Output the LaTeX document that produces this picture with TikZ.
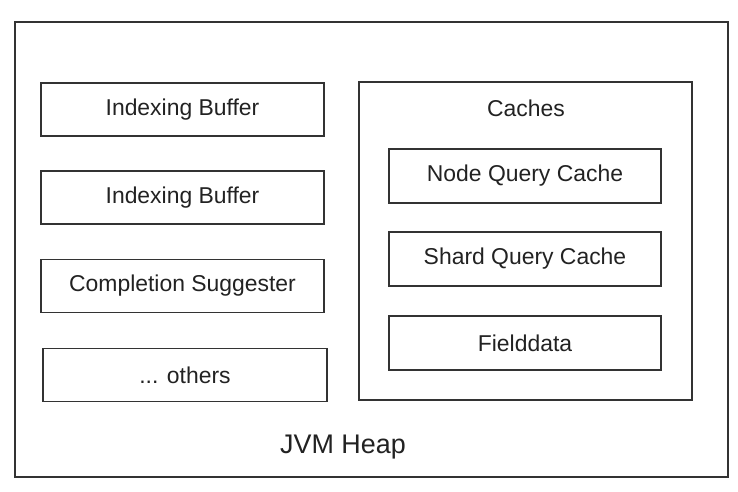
\documentclass[tikz,border=0pt]{standalone}
\usepackage{fontspec}
\setmainfont{Liberation Sans}
\usepackage{tikz}
\usetikzlibrary{positioning}
\definecolor{boxline}{HTML}{333333}
\definecolor{txt}{HTML}{222222}

\begin{document}
\begin{tikzpicture}[x=1bp,y=-1bp,
  part/.style={draw=boxline,line width=1.8pt,minimum width=283bp,minimum height=53bp,inner sep=0pt,
    font=\fontsize{23}{26}\selectfont,text=txt},
  cache/.style={part,minimum width=272bp,minimum height=54bp}]
  \useasboundingbox[fill=white] (0,0) rectangle (738,492);
  % heap and cache frames
  \draw[boxline,line width=1.8pt] (15,22) rectangle (728,477);
  \draw[boxline,line width=1.8pt] (359,82) rectangle (692,400);
  \node[txt,font=\fontsize{27}{30}\selectfont] (heap) at (343,447) {JVM Heap};
  \node[txt,font=\fontsize{23}{26}\selectfont] (caches) at (526,108) {Caches};
  % left column
  \node[part] (ib1) at (182.5,109.5) {Indexing Buffer};
  \node[part] (ib2) at (182.5,197.5) {Indexing Buffer};
  \node[part] (cs) at (182.5,286) {Completion Suggester};
  \node[part,minimum width=284bp] (others) at (185,375) {... others};
  % caches
  \node[cache] (nqc) at (525,176) {Node Query Cache};
  \node[cache] (sqc) at (525,259) {Shard Query Cache};
  \node[cache] (fd) at (525,343) {Fielddata};
\end{tikzpicture}
\end{document}
